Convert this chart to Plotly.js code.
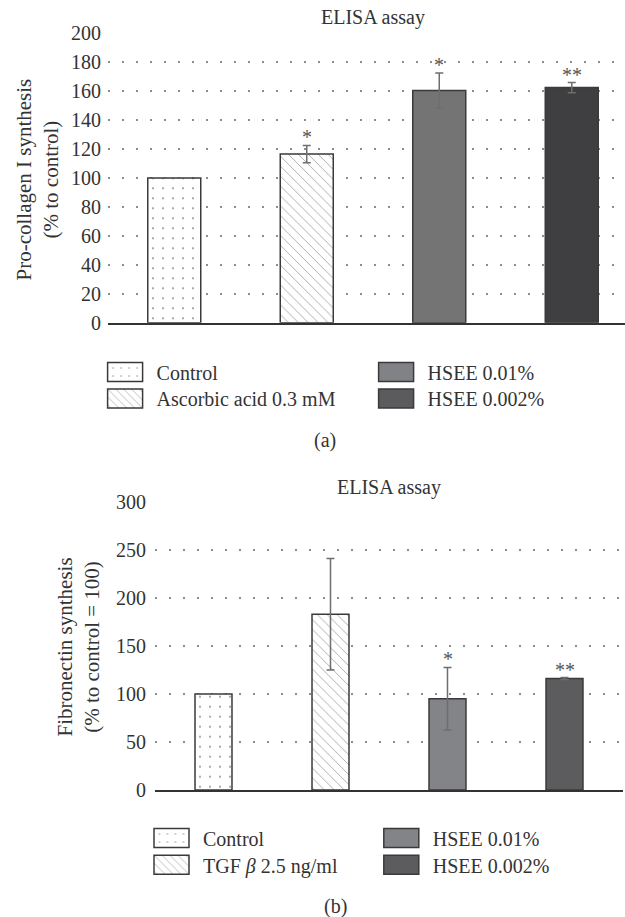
<!DOCTYPE html>
<html><head><meta charset="utf-8">
<script src="https://cdn.plot.ly/plotly-3.0.1.min.js"></script>
<style>html,body{margin:0;padding:0;overflow:hidden;background:#fff}#chart{width:640px;height:917px}</style>
</head><body><div id="chart"></div>
<script>
// ---- Panel (a): Pro-collagen I ----
const categoriesA = ['Control', 'Ascorbic acid 0.3 mM', 'HSEE 0.01%', 'HSEE 0.002%'];
const valuesA = [100, 116.5, 160.5, 162.5];
const errorsA = [0, 6, 12, 3.5];
const starsA = ['', '*', '*', '**'];
// ---- Panel (b): Fibronectin ----
const categoriesB = ['Control', 'TGF <i>β</i> 2.5 ng/ml', 'HSEE 0.01%', 'HSEE 0.002%'];
const valuesB = [100, 183, 95, 116];
const errorsB = [0, 58, 32.5, 1];
const starsB = ['', '', '*', '**'];
const yTicksA = [0, 20, 40, 60, 80, 100, 120, 140, 160, 180, 200];
const yTicksB = [0, 50, 100, 150, 200, 250, 300];

const W = 640, H = 917;
const FONT = 'Liberation Serif, Times New Roman, serif';
const TXT = '#333333';

const dotPattern = {shape: '.', bgcolor: '#ffffff', fgcolor: '#8f8f8f', size: 10, solidity: 0.03, fillmode: 'replace'};
const hatchPattern = {shape: '\\', bgcolor: '#ffffff', fgcolor: '#a0a0a0', size: 7, solidity: 0.12, fillmode: 'replace'};
const stylesA = [
  {color: '#ffffff', pattern: dotPattern},
  {color: '#ffffff', pattern: hatchPattern},
  {color: '#747474'},
  {color: '#3f3e40'}
];
const stylesB = [
  {color: '#ffffff', pattern: dotPattern},
  {color: '#ffffff', pattern: hatchPattern},
  {color: '#838487'},
  {color: '#5c5c5e'}
];
// legend swatch colours of panel (a) are printed lighter than its bars
const legendFillA = {2: '#818285', 3: '#5b5b5d'};

function makeTraces(cats, vals, errs, styles, xa, ya, legends, barW) {
  return cats.map((c, i) => ({
    type: 'bar',
    x: [c], y: [vals[i]],
    name: c,
    xaxis: xa, yaxis: ya,
    legend: legends[i],
    width: barW,
    marker: Object.assign({line: {color: '#3a3a3a', width: 1.5}}, styles[i]),
    error_y: {type: 'data', array: [errs[i]], visible: errs[i] > 0, color: '#6e6e6e', thickness: 1.5, width: 4},
    hoverinfo: 'skip'
  }));
}

const data = [
  ...makeTraces(categoriesA, valuesA, errorsA, stylesA, 'x', 'y', ['legend', 'legend2', 'legend3', 'legend4'], 0.4),
  ...makeTraces(categoriesB, valuesB, errorsB, stylesB, 'x2', 'y2', ['legend5', 'legend6', 'legend7', 'legend8'], 0.316)
];

function px(x) { return x / W; }
function py(y) { return 1 - y / H; }

function legendAt(swLeft, cy) {
  return {
    x: px(swLeft - 14), xanchor: 'left', y: py(cy), yanchor: 'middle',
    bgcolor: 'rgba(0,0,0,0)', borderwidth: 0, itemwidth: 53,
    font: {family: FONT, size: 20, color: TXT}, itemclick: false, itemdoubleclick: false
  };
}

const annotations = [];
function starAnns(cats, vals, errs, stars, xa, ya) {
  cats.forEach((c, i) => {
    if (!stars[i]) return;
    annotations.push({x: c, y: vals[i] + errs[i], xref: xa, yref: ya, text: stars[i], showarrow: false,
      yanchor: 'bottom', yshift: -5, font: {family: FONT, size: 20, color: '#555'}});
  });
}
starAnns(categoriesA, valuesA, errorsA, starsA, 'x', 'y');
starAnns(categoriesB, valuesB, errorsB, starsB, 'x2', 'y2');

function txt(text, x, y, size, extra) {
  annotations.push(Object.assign({text, x: px(x), y: py(y), xref: 'paper', yref: 'paper', showarrow: false,
    xanchor: 'center', yanchor: 'middle', font: {family: FONT, size, color: TXT}}, extra || {}));
}
txt('ELISA assay', 372.7, 18, 20);
txt('ELISA assay', 388.6, 487, 20);
txt('Pro-collagen I synthesis<br>(% to control)', 37, 179.5, 21, {textangle: -90});
txt('Fibronectin synthesis<br>(% to control = 100)', 77.5, 647, 21, {textangle: -90});
txt('(a)', 325, 440, 20);
txt('(b)', 335, 906, 20);

function xAxis(domain, cats) {
  return {domain, type: 'category', categoryorder: 'array', categoryarray: cats, range: [-0.5, 3.5],
    showticklabels: false, ticks: '', showgrid: false, zeroline: false,
    showline: true, linecolor: '#333333', linewidth: 2, fixedrange: true};
}
function yAxis(domain, range, ticks, anchor, standoff) {
  return {domain, range, tickvals: ticks, ticktext: ticks.map(String), anchor,
    showgrid: true, gridcolor: '#8c8c8c', griddash: '1.5px,12.5px', gridwidth: 1.5,
    zeroline: false, showline: false, ticks: '', ticklabelstandoff: standoff,
    tickfont: {family: FONT, size: 20, color: TXT}, fixedrange: true};
}

const layout = {
  width: W, height: H,
  margin: {l: 0, r: 0, t: 0, b: 0},
  paper_bgcolor: '#ffffff', plot_bgcolor: 'rgba(0,0,0,0)',
  barmode: 'overlay',
  showlegend: true,
  xaxis: xAxis([px(108), px(638)], categoriesA),
  yaxis: yAxis([py(322.7), py(33.3)], [0, 200], yTicksA, 'x', 6),
  xaxis2: Object.assign(xAxis([px(155), px(623)], categoriesB), {anchor: 'y2'}),
  yaxis2: yAxis([py(790), py(501.7)], [0, 300], yTicksB, 'x2', 8),
  legend: legendAt(107.6, 372),
  legend2: legendAt(107.6, 398.5),
  legend3: legendAt(378.6, 372),
  legend4: legendAt(378.6, 398.5),
  legend5: legendAt(154, 838),
  legend6: legendAt(154, 864.7),
  legend7: legendAt(383.8, 838),
  legend8: legendAt(383.8, 864.7),
  annotations
};

function widenSwatches() {
  document.querySelectorAll('#chart g.traces').forEach(g => {
    const d = g.__data__;
    const idx = d && d[0] && d[0].trace ? d[0].trace.index : -1;
    g.querySelectorAll('.legendpoints path').forEach(p => {
      p.setAttribute('d', 'M17.5,9.5H-17.5V-9.5H17.5Z');
      if (legendFillA[idx]) p.style.fill = legendFillA[idx];
    });
  });
}
Plotly.newPlot('chart', data, layout, {staticPlot: true, displayModeBar: false}).then(() => {
  widenSwatches();
  setTimeout(widenSwatches, 50);
  setTimeout(widenSwatches, 300);
});
widenSwatches();
</script>
</body></html>
